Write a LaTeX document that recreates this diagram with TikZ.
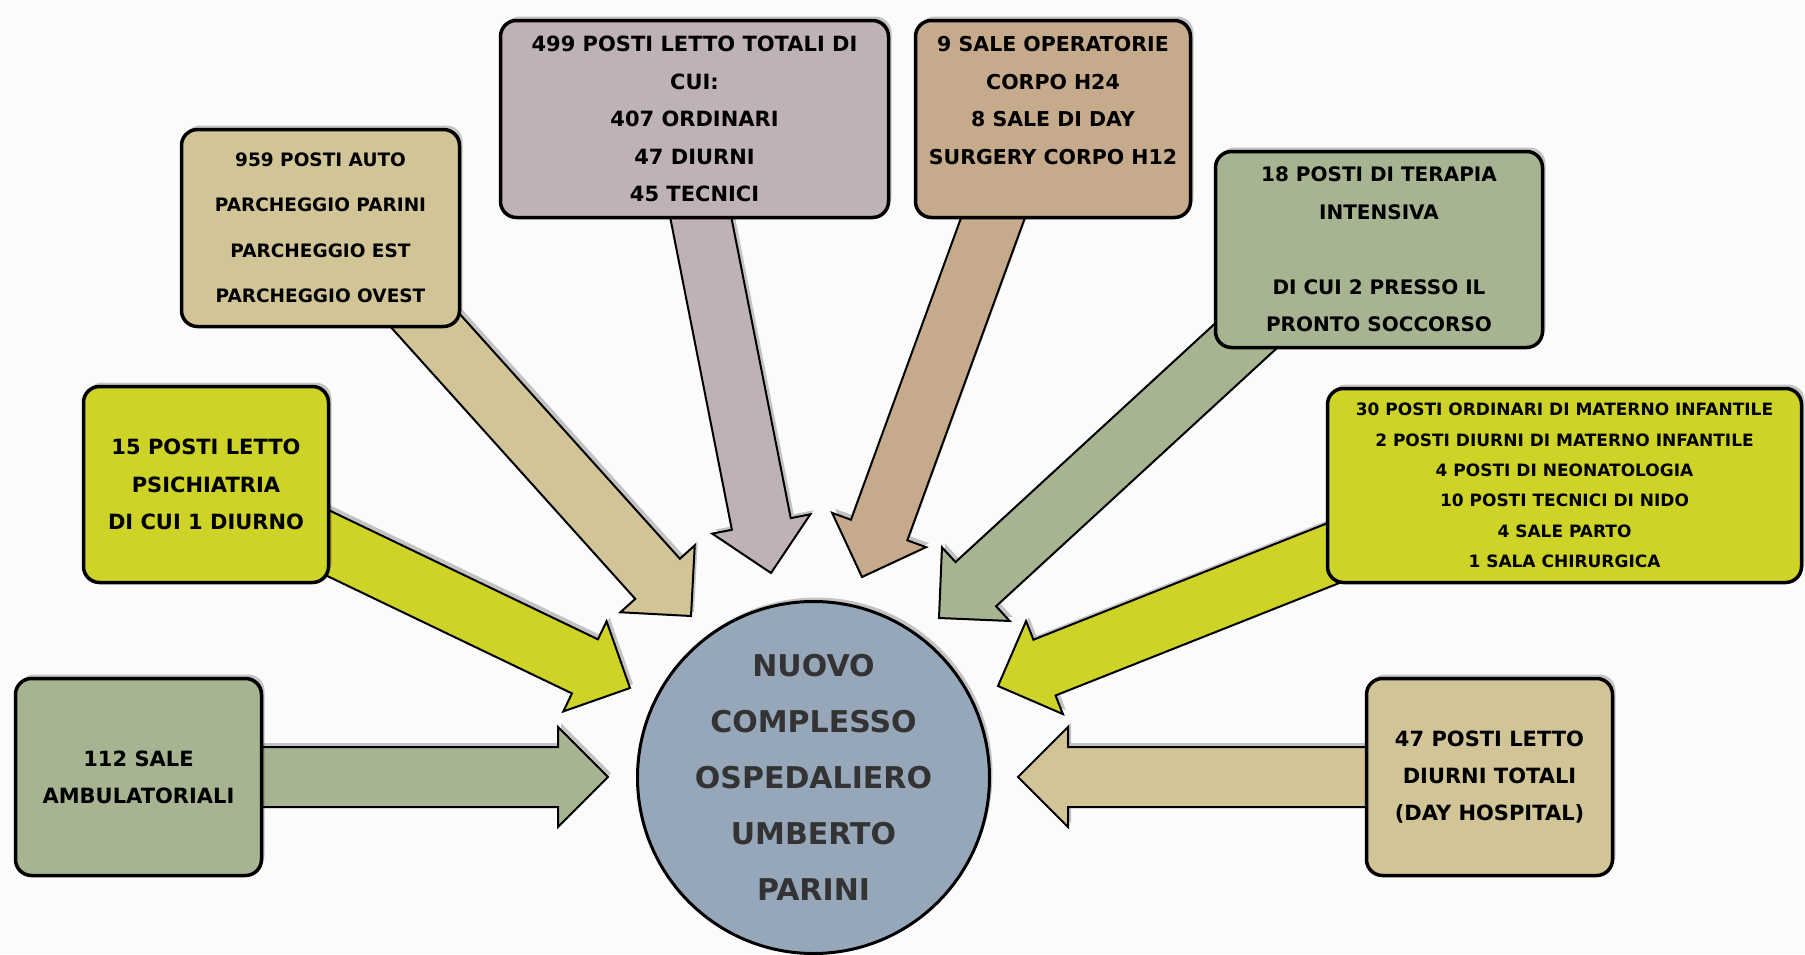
\documentclass[tikz,border=0pt]{standalone}
\usepackage{fontspec}
\setmainfont{DejaVu Sans}
\usetikzlibrary{calc,shadows}
\pgfdeclarelayer{sotto}
\pgfdeclarelayer{frecce}
\pgfsetlayers{sotto,frecce,main}
\definecolor{sfondo}{RGB}{251,251,251}
\definecolor{colSabbia}{RGB}{209,197,151}
\definecolor{colMalva}{RGB}{190,178,182}
\definecolor{colNocciola}{RGB}{198,170,140}
\definecolor{colSalvia}{RGB}{166,180,145}
\definecolor{colLime}{RGB}{206,211,39}
\definecolor{colCentro}{RGB}{151,167,186}
\definecolor{colScritta}{RGB}{51,51,51}
\newcommand{\fatarrow}[3]{%
  \coordinate (fa-b) at ($(#2)!50pt!(#1)$);
  \filldraw[fat, fill=#3]
    ($(#1)!30pt!90:(#2)$) -- ($(fa-b)!30pt!90:(#2)$) -- ($(fa-b)!50pt!90:(#2)$)
    -- (#2) -- ($(fa-b)!50pt!-90:(#2)$) -- ($(fa-b)!30pt!-90:(#2)$)
    -- ($(#1)!30pt!-90:(#2)$) -- cycle;
}
\begin{document}
\begin{tikzpicture}[x=1pt, y=-1pt,
    ombra/.style={drop shadow={shadow xshift=3pt, shadow yshift=4pt, opacity=0.22, fill=black}},
    box/.style={draw, line width=3.5pt, rounded corners=16pt, align=center, inner sep=0pt, ombra},
    fat/.style={draw, line width=2pt, line join=miter, ombra},
    fs/.style 2 args={font=\fontsize{#1}{#2}\selectfont\bfseries}]
  \useasboundingbox (0,0) rectangle (1805,954);
  \begin{pgfonlayer}{sotto}
    \fill[sfondo] (0,0) rectangle (1805,954);
  \end{pgfonlayer}

  \node[box, fill=colSabbia, minimum width=278, minimum height=197, fs={18.5}{45.5}] (auto) at (320.5,228)
    {959 POSTI AUTO\\PARCHEGGIO PARINI\\PARCHEGGIO EST\\PARCHEGGIO OVEST};
  \node[box, fill=colMalva, minimum width=388, minimum height=197, fs={21}{37.4}] (letti) at (694.5,119)
    {499 POSTI LETTO TOTALI DI\\CUI:\\407 ORDINARI\\47 DIURNI\\45 TECNICI};
  \node[box, fill=colNocciola, minimum width=275, minimum height=197, fs={20.5}{37.4}] (sale) at (1053,119)
    {9 SALE OPERATORIE\\CORPO H24\\8 SALE DI DAY\\SURGERY CORPO H12\\~};
  \node[box, fill=colSalvia, minimum width=327, minimum height=196, fs={20}{37.6}] (terapia) at (1379,249.5)
    {18 POSTI DI TERAPIA\\INTENSIVA\\~\\DI CUI 2 PRESSO IL\\PRONTO SOCCORSO};
  \node[box, fill=colLime, minimum width=245, minimum height=196, fs={21}{37.4}] (psich) at (206,484.5)
    {15 POSTI LETTO\\PSICHIATRIA\\DI CUI 1 DIURNO};
  \node[box, fill=colLime, minimum width=474, minimum height=194, fs={17}{30.4}] (materno) at (1564.5,485.5)
    {30 POSTI ORDINARI DI MATERNO INFANTILE\\2 POSTI DIURNI DI MATERNO INFANTILE\\4 POSTI DI NEONATOLOGIA\\10 POSTI TECNICI DI NIDO\\4 SALE PARTO\\1 SALA CHIRURGICA};
  \node[box, fill=colSalvia, minimum width=246, minimum height=197, fs={21}{37}] (ambul) at (138.5,777)
    {112 SALE\\AMBULATORIALI};
  \node[box, fill=colSabbia, minimum width=246, minimum height=197, fs={21}{37}] (dayhosp) at (1489.5,777)
    {47 POSTI LETTO\\DIURNI TOTALI\\(DAY HOSPITAL)};
  \node[circle, draw, line width=3pt, fill=colCentro, minimum size=352, inner sep=0pt, align=center,
        text=colScritta, fs={30}{56}, ombra] (centro) at (813.5,777.5)
    {NUOVO\\COMPLESSO\\OSPEDALIERO\\UMBERTO\\PARINI};

  \coordinate (s-auto) at ($(auto.center)+(0,-24)$);
  \coordinate (s-letti) at ($(letti.center)+(-11,11)$);
  \coordinate (s-sale) at ($(sale.center)+(-28,11)$);
  \coordinate (s-terapia) at ($(terapia.center)+(0,-36)$);
  \coordinate (s-materno) at ($(materno.center)+(0,-24)$);
  \coordinate (t-ambul) at (608,777);
  \coordinate (t-psich) at (630,688);
  \coordinate (t-auto) at (691,616);
  \coordinate (t-letti) at (771,573);
  \coordinate (t-sale) at (862,577);
  \coordinate (t-terapia) at (939,618);
  \coordinate (t-materno) at (998,686);
  \coordinate (t-dayhosp) at (1018,777);

  \begin{pgfonlayer}{frecce}
    \fatarrow{ambul.center}{t-ambul}{colSalvia}
    \fatarrow{psich.center}{t-psich}{colLime}
    \fatarrow{s-auto}{t-auto}{colSabbia}
    \fatarrow{s-letti}{t-letti}{colMalva}
    \fatarrow{s-sale}{t-sale}{colNocciola}
    \fatarrow{s-terapia}{t-terapia}{colSalvia}
    \fatarrow{s-materno}{t-materno}{colLime}
    \fatarrow{dayhosp.center}{t-dayhosp}{colSabbia}
  \end{pgfonlayer}
\end{tikzpicture}
\end{document}
